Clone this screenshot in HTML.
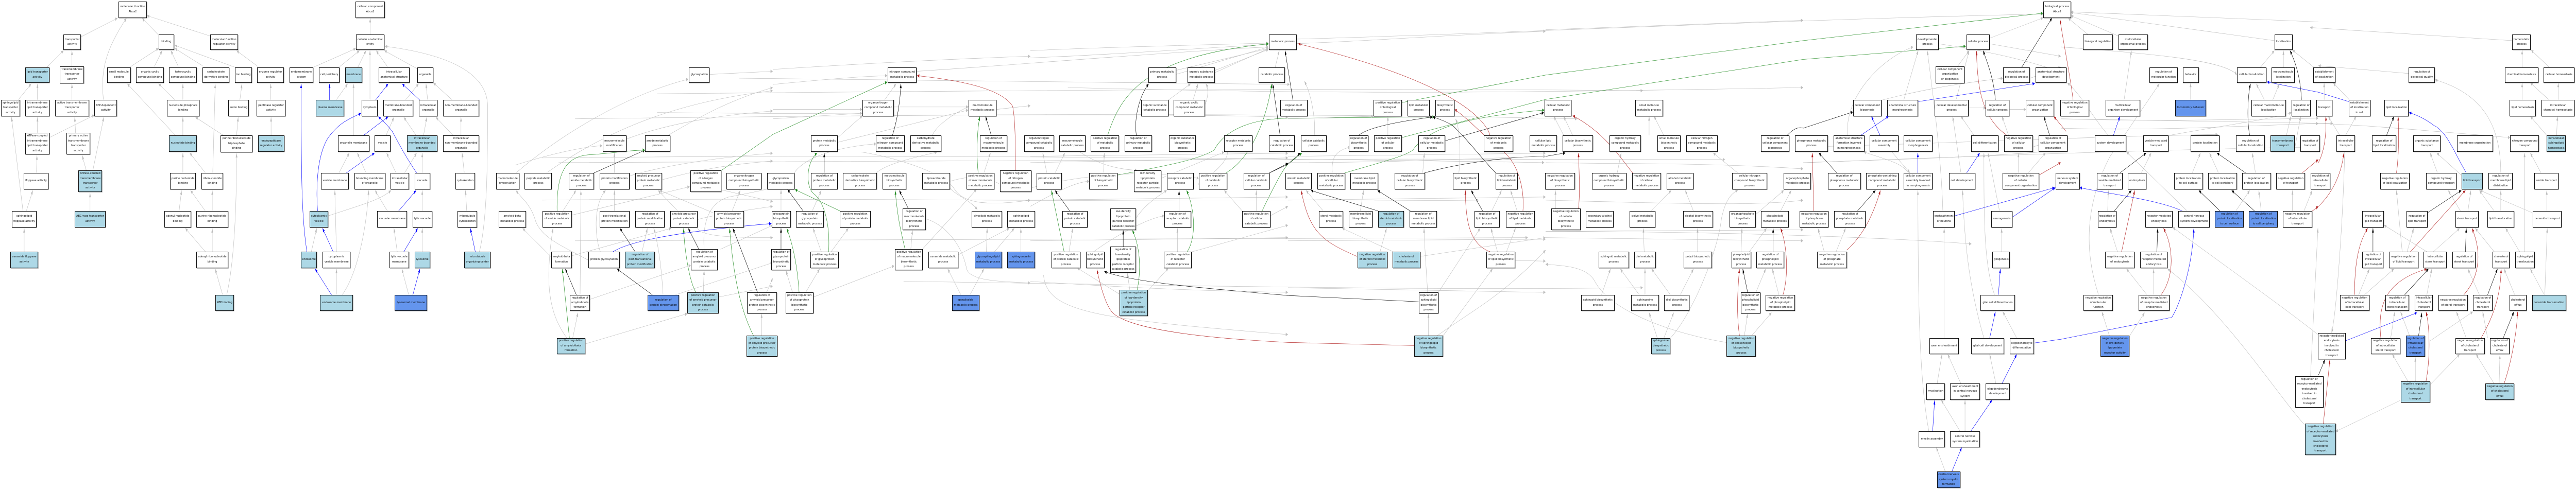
<!DOCTYPE html>
<html><head><meta charset="utf-8"><style>
:root{--sx:calc(100vw / 7680);--sy:calc(100vh / 952)}
html,body{margin:0;padding:0;background:#fff;overflow:hidden;width:100vw;height:100vh}
#w{position:relative;width:100vw;height:100vh;overflow:hidden;background:#fff}
svg{position:absolute;left:0;top:0;width:100vw;height:100vh}
svg path{vector-effect:non-scaling-stroke;fill:none;stroke-width:calc(100vw / 7680)}
.g{stroke:#bdbdbd;marker-end:url(#mg)}
.k{stroke:#000;marker-end:url(#mk)}
.u{stroke:#0000ff;marker-end:url(#mu)}
.v{stroke:#228b22;marker-end:url(#mv)}
.r{stroke:#b22222;marker-end:url(#mr)}
.n,.b,.d{position:absolute;box-sizing:border-box;left:calc((var(--k)*1568 + var(--x))*0.489796*var(--sx));top:calc(var(--y)*0.6075*var(--sy));width:calc(var(--w)*0.489796*var(--sx));height:calc(var(--h)*0.6075*var(--sy));border:calc(1*var(--sx)) solid #111;box-shadow:var(--sx) var(--sx) 0 #808080;background:#fff;display:flex;align-items:center;justify-content:center;text-align:center;font-family:"DejaVu Sans","Liberation Sans",sans-serif;font-size:calc(7.8*var(--sx));line-height:calc(9.4*var(--sy));color:#000;white-space:nowrap}
.b{background:#add8e6}
.d{background:#6495ed}
</style></head><body><div id="w">
<svg viewBox="0 0 15680 1567" preserveAspectRatio="none">
<defs>
<marker id="mg" viewBox="0 0 10 8" refX="10" refY="4" markerWidth="14" markerHeight="11" markerUnits="userSpaceOnUse" orient="auto"><polygon points="0,0 10,4 0,8" fill="#bdbdbd"/></marker>
<marker id="mk" viewBox="0 0 10 8" refX="10" refY="4" markerWidth="14" markerHeight="11" markerUnits="userSpaceOnUse" orient="auto"><polygon points="0,0 10,4 0,8" fill="#000"/></marker>
<marker id="mu" viewBox="0 0 10 8" refX="10" refY="4" markerWidth="14" markerHeight="11" markerUnits="userSpaceOnUse" orient="auto"><polygon points="0,0 10,4 0,8" fill="#0000ff"/></marker>
<marker id="mv" viewBox="0 0 10 8" refX="10" refY="4" markerWidth="14" markerHeight="11" markerUnits="userSpaceOnUse" orient="auto"><polygon points="0,0 10,4 0,8" fill="#228b22"/></marker>
<marker id="mr" viewBox="0 0 10 8" refX="10" refY="4" markerWidth="14" markerHeight="11" markerUnits="userSpaceOnUse" orient="auto"><polygon points="0,0 10,4 0,8" fill="#b22222"/></marker>
</defs>

<g>
<path class="g" d="M3300,505 C5000,495 7000,500 9400,520"/>
<path class="g" d="M3400,520 C5000,515 8000,505 10500,510"/>
<path class="g" d="M3300,640 C5000,630 7000,650 9000,640"/>
<path class="g" d="M3500,770 C5000,760 7000,770 9300,760"/>
<path class="g" d="M4000,300 C6000,290 8000,280 10000,290"/>
<path class="g" d="M4000,360 C6000,370 8000,360 9600,380"/>
<path class="g" d="M3500,380 C5000,370 7000,360 7840,375"/>
<path class="g" d="M4500,250 C6000,260 7000,270 7850,270"/>
<path class="g" d="M6500,280 C8000,300 9000,300 10976,280"/>
<path class="g" d="M5500,900 C7000,910 8500,930 10000,920"/>
<path class="g" d="M9408,740 C10500,740 11500,760 12000,780"/>
<path class="g" d="M10976,470 C11800,460 12500,440 13500,430"/>
<path class="g" d="M11000,520 C12000,500 13000,480 14100,470"/>
<path class="g" d="M12544,380 C13000,385 13800,390 14200,395"/>
<path class="g" d="M5580,228 C6000,215 7000,170 7722,150"/>
<path class="g" d="M7892,125 C9000,110 11000,60 12436,45"/>
<path class="g" d="M7158,225 L7722,155"/>
<path class="g" d="M7396,225 L7722,158"/>
<path class="v" d="M8533,328 L9408,240 L10976,130 L12436,42"/>
<path class="v" d="M8533,440 L9408,318 L10976,190 L11966,148"/>
<path class="v" d="M8185,553 C8400,520 8550,500 8600,480 C8700,400 9000,370 9401,352"/>
<path class="v" d="M6802,560 C7100,530 7300,510 7390,480 C7450,420 7600,380 7840,378 L8733,374"/>
<path class="v" d="M7682,675 C7750,600 7810,540 7840,525 L7925,489"/>
<path class="v" d="M4391,545 L4704,430 L5401,262"/>
<path class="r" d="M8607,1105 L7840,1095 C7272,1080 6872,1050 6772,1000 C6722,970 6692,900 6677,862"/>
<path class="u" d="M12381,1097 L12544,1085 L13219,1015 C13264,980 13344,860 13354,730"/>
<path class="k" d="M8637,965 L7840,945 C7272,920 6872,900 6722,868"/>
<path class="k" d="M8670,553 C8900,520 9200,500 9408,500 L9528,489"/>
<path class="k" d="M10878,433 C10920,410 10950,405 10976,410 L11279,358"/>
<path class="k" d="M7727,553 L7840,525 L7915,489"/>
<path class="k" d="M7870,320 L7822,162"/>
</g>

<g>
<path class="g" d="M492,118 L715,58"/>
<path class="g" d="M630,320 C610,230 640,160 770,58"/>
<path class="g" d="M965,112 L865,58"/>
<path class="g" d="M1278,115 L895,50"/>
<path class="g" d="M285,215 L387,162"/>
<path class="g" d="M438,212 L438,162"/>
<path class="g" d="M795,213 L965,155"/>
<path class="g" d="M940,212 L987,162"/>
<path class="g" d="M1085,212 L1040,162"/>
<path class="g" d="M1232,210 L1065,155"/>
<path class="g" d="M1430,215 L1065,145"/>
<path class="g" d="M110,320 L190,268"/>
<path class="g" d="M228,320 L228,268"/>
<path class="g" d="M438,320 L438,268"/>
<path class="g" d="M1065,320 L965,268"/>
<path class="g" d="M1113,320 L1113,268"/>
<path class="g" d="M1460,320 L1473,268"/>
<path class="g" d="M228,425 L228,375"/>
<path class="g" d="M300,440 L575,368"/>
<path class="g" d="M460,425 L455,375"/>
<path class="g" d="M1068,433 L775,268"/>
<path class="g" d="M1113,433 L1113,375"/>
<path class="g" d="M1360,433 L1190,375"/>
<path class="g" d="M1440,433 L1450,375"/>
<path class="g" d="M222,553 L225,497"/>
<path class="g" d="M525,545 L500,497"/>
<path class="g" d="M565,545 L632,375"/>
<path class="g" d="M1113,553 L1113,489"/>
<path class="g" d="M1250,553 L1155,489"/>
<path class="g" d="M1295,553 L1310,268"/>
<path class="g" d="M140,675 L70,375"/>
<path class="g" d="M160,675 L200,609"/>
<path class="g" d="M548,675 L548,617"/>
<path class="g" d="M1090,675 L1105,609"/>
<path class="g" d="M1250,675 L1160,609"/>
<path class="g" d="M1292,675 L1292,609"/>
<path class="g" d="M147,805 L147,730"/>
<path class="g" d="M1250,805 L1128,730"/>
<path class="g" d="M1292,805 L1292,730"/>
<path class="g" d="M1355,943 L1310,860"/>
<path class="g" d="M1380,943 C1420,850 1440,700 1440,490"/>
<path class="g" d="M1568,212 L1440,162"/>
</g>

<g transform="translate(1568,0)">
<path class="g" d="M685,110 L685,58"/>
<path class="g" d="M80,320 L80,268"/>
<path class="g" d="M82,433 L82,375"/>
<path class="g" d="M340,215 L598,155"/>
<path class="g" d="M500,213 L620,162"/>
<path class="g" d="M610,215 L660,162"/>
<path class="g" d="M684,320 L684,162"/>
<path class="g" d="M790,213 L722,162"/>
<path class="g" d="M972,220 L772,162"/>
<path class="g" d="M1350,805 C1400,700 1400,500 1400,340 C1400,220 1100,170 775,148"/>
<path class="g" d="M478,320 L548,268"/>
<path class="g" d="M900,320 L980,268"/>
<path class="g" d="M1035,320 L1025,268"/>
<path class="g" d="M1185,320 L1070,265"/>
<path class="g" d="M584,433 L584,268"/>
<path class="g" d="M782,433 L830,375"/>
<path class="g" d="M965,433 L890,375"/>
<path class="g" d="M1010,433 L1030,375"/>
<path class="g" d="M1190,433 L1085,375"/>
<path class="g" d="M1238,433 L1238,375"/>
<path class="g" d="M495,553 L558,489"/>
<path class="g" d="M660,553 L607,489"/>
<path class="g" d="M843,553 L785,489"/>
<path class="g" d="M895,553 L968,489"/>
<path class="g" d="M1002,553 L1002,489"/>
<path class="g" d="M1258,553 L1245,489"/>
<path class="g" d="M431,690 C600,660 750,640 812,609"/>
<path class="g" d="M790,675 L715,609"/>
<path class="g" d="M1002,675 L1002,609"/>
<path class="g" d="M1273,675 L1265,609"/>
<path class="g" d="M327,805 L360,730"/>
<path class="g" d="M480,805 L470,609"/>
<path class="g" d="M850,805 L830,730"/>
<path class="g" d="M1002,805 L1002,730"/>
<path class="g" d="M480,943 L480,860"/>
<path class="g" d="M515,943 C600,880 660,750 676,609"/>
<path class="g" d="M920,943 L878,860"/>
<path class="u" d="M438,320 L438,268"/>
<path class="u" d="M718,320 L795,268"/>
<path class="u" d="M987,320 L880,268"/>
<path class="u" d="M645,433 L795,373"/>
<path class="u" d="M540,553 L712,489"/>
<path class="u" d="M968,553 C900,500 860,460 820,420 C790,400 760,385 735,373"/>
<path class="u" d="M365,675 C350,560 380,480 430,440 C500,390 560,380 630,362"/>
<path class="u" d="M858,675 L965,609"/>
<path class="u" d="M300,805 C270,700 265,600 265,268"/>
<path class="u" d="M460,805 L395,730"/>
<path class="u" d="M890,805 L975,730"/>
<path class="u" d="M1325,805 L1295,730"/>
<path class="u" d="M450,943 L350,860"/>
<path class="u" d="M945,943 L988,860"/>
</g>

<g transform="translate(3136,0)">
<path class="g" d="M5,553 C300,420 700,300 1055,253"/>
<path class="g" d="M1183,238 L1568,228"/>
<path class="g" d="M0,528 C200,495 400,470 530,466"/>
<path class="g" d="M676,445 C900,400 1200,370 1568,355"/>
<path class="g" d="M190,553 C500,440 900,330 1568,290"/>
<path class="g" d="M930,433 C1100,380 1300,320 1568,280"/>
<path class="g" d="M604,553 L604,489"/>
<path class="g" d="M680,565 C900,530 1200,505 1568,490"/>
<path class="g" d="M893,575 C1100,545 1300,525 1568,515"/>
<path class="g" d="M290,675 L370,609"/>
<path class="g" d="M345,688 L1062,597"/>
<path class="g" d="M604,675 L604,609"/>
<path class="g" d="M518,805 C480,750 480,650 550,609"/>
<path class="g" d="M772,805 L805,730"/>
<path class="g" d="M900,943 C890,850 870,780 843,730"/>
<path class="g" d="M990,675 L870,609"/>
<path class="g" d="M1211,682 L880,609"/>
<path class="g" d="M1320,675 L1370,609"/>
<path class="g" d="M1255,607 L1568,645"/>
<path class="g" d="M344,818 L950,730"/>
<path class="g" d="M220,822 L45,730"/>
<path class="g" d="M445,832 C300,790 150,760 120,700 C90,650 30,630 5,609"/>
<path class="g" d="M395,943 L400,609"/>
<path class="g" d="M456,957 L1070,848"/>
<path class="g" d="M315,1081 C200,1000 180,900 230,730"/>
<path class="g" d="M350,1081 L382,1000"/>
<path class="g" d="M425,1100 L1048,1003"/>
<path class="g" d="M975,943 L1568,840"/>
<path class="g" d="M1145,935 L1150,865"/>
<path class="g" d="M1238,950 L1568,915"/>
<path class="g" d="M1500,1073 L1500,1003"/>
<path class="g" d="M1530,935 L1568,890"/>
<path class="g" d="M1150,797 C1140,720 1170,650 1300,630 C1400,620 1500,610 1568,600"/>
<path class="g" d="M1250,797 L1568,720"/>
<path class="g" d="M1110,727 C1110,760 1400,760 1568,760"/>
<path class="g" d="M1000,727 C1050,700 1300,680 1568,660"/>
<path class="k" d="M480,553 L790,480"/>
<path class="k" d="M372,943 L305,860"/>
<path class="k" d="M835,943 L620,860"/>
<path class="k" d="M730,805 L637,730"/>
<path class="k" d="M1118,797 L1053,730"/>
<path class="k" d="M1475,935 L1325,730"/>
<path class="v" d="M255,675 C250,560 300,500 450,495 C600,490 700,480 790,480"/>
<path class="v" d="M330,1081 L287,860"/>
<path class="v" d="M1100,935 C1060,900 1030,800 1025,730"/>
<path class="v" d="M1450,1073 C1380,1000 1330,900 1305,730"/>
<path class="u" d="M595,805 C700,770 1000,740 1560,715"/>
</g>

<g transform="translate(4704,0)">
<path class="g" d="M0,222 C500,205 1000,190 1568,180"/>
<path class="g" d="M0,270 C300,255 500,245 697,242"/>
<path class="g" d="M680,320 L750,268"/>
<path class="g" d="M395,440 L546,370"/>
<path class="g" d="M395,455 L1190,352"/>
<path class="g" d="M0,350 L544,350"/>
<path class="g" d="M0,380 L544,362"/>
<path class="g" d="M737,342 L1190,342"/>
<path class="g" d="M1361,350 L1568,338"/>
<path class="g" d="M240,675 L295,609"/>
<path class="g" d="M295,805 L245,730"/>
<path class="g" d="M355,805 L460,730"/>
<path class="g" d="M120,935 L80,865"/>
<path class="g" d="M200,935 L285,860"/>
<path class="g" d="M247,950 L740,850"/>
<path class="g" d="M50,675 L50,606"/>
<path class="g" d="M840,797 L850,736"/>
<path class="g" d="M914,795 L1240,606"/>
<path class="g" d="M1285,553 L1325,489"/>
<path class="g" d="M1300,805 L1305,730"/>
<path class="g" d="M1350,805 L1470,730"/>
<path class="g" d="M1510,805 L1510,730"/>
<path class="g" d="M1200,943 L1285,860"/>
<path class="g" d="M1145,943 L1065,860"/>
<path class="g" d="M1128,815 L1440,730"/>
<path class="g" d="M935,700 C1050,720 1150,780 1180,860 C1200,900 1400,900 1568,905"/>
<path class="g" d="M970,433 C1000,400 1100,360 1240,330"/>
<path class="g" d="M540,486 C700,500 1000,540 1100,600 C1150,650 1300,660 1568,640"/>
<path class="g" d="M1078,580 C1200,560 1300,560 1420,600"/>
<path class="g" d="M630,553 C700,520 900,500 1000,486"/>
<path class="g" d="M130,553 C200,500 400,470 630,460"/>
<path class="g" d="M1078,600 C1100,620 1200,640 1245,670"/>
<path class="k" d="M728,433 C760,380 775,320 780,268"/>
<path class="k" d="M313,553 L313,489"/>
<path class="k" d="M185,675 L90,606"/>
<path class="k" d="M50,797 L50,730"/>
<path class="k" d="M825,667 L770,609"/>
<path class="k" d="M1330,433 L1295,372"/>
<path class="v" d="M340,805 C350,700 300,640 250,620 C200,600 200,520 270,489"/>
<path class="v" d="M410,675 L135,606"/>
<path class="v" d="M160,935 C150,850 120,780 85,730"/>
<path class="v" d="M805,797 C780,740 760,700 745,609"/>
<path class="v" d="M1250,553 C1240,500 1240,430 1260,372"/>
<path class="r" d="M1477,545 C1477,450 1475,380 1460,340 C1400,290 1200,260 878,242"/>
</g>

<g transform="translate(6272,0)">
<path class="g" d="M0,162 C400,152 900,145 1450,138"/>
<path class="g" d="M0,185 C500,175 1000,155 1450,142"/>
<path class="g" d="M886,238 L1450,150"/>
<path class="g" d="M1124,232 L1450,155"/>
<path class="g" d="M1490,215 L1515,162"/>
<path class="g" d="M840,320 L975,268"/>
<path class="g" d="M990,320 L1020,268"/>
<path class="g" d="M1060,340 C1090,300 1080,280 1068,268"/>
<path class="g" d="M1375,675 L1375,609"/>
<path class="g" d="M1290,675 L1180,609"/>
<path class="g" d="M1460,690 L1568,660"/>
<path class="g" d="M895,805 L895,730"/>
<path class="g" d="M985,805 L1568,720"/>
<path class="g" d="M605,927 L590,873"/>
<path class="g" d="M720,927 L840,857"/>
<path class="g" d="M540,940 L285,857"/>
<path class="g" d="M235,805 L258,730"/>
<path class="g" d="M100,553 L75,489"/>
<path class="g" d="M150,553 L210,489"/>
<path class="g" d="M445,553 L450,489"/>
<path class="g" d="M0,900 C600,920 1000,930 1568,935"/>
<path class="g" d="M80,880 C100,1000 400,1020 1568,1070"/>
<path class="g" d="M797,570 L1180,486"/>
<path class="g" d="M640,700 C700,650 800,620 830,609"/>
<path class="g" d="M380,807 C500,760 700,700 814,690"/>
<path class="g" d="M10,600 C300,560 700,540 1026,570"/>
<path class="g" d="M0,640 L1568,630"/>
<path class="g" d="M0,770 L1568,760"/>
<path class="g" d="M0,500 L1568,490"/>
<path class="g" d="M0,520 C500,515 1000,510 1568,505"/>
<path class="g" d="M0,660 C200,600 300,580 359,580"/>
<path class="g" d="M1200,486 C1200,520 1100,560 1020,590"/>
<path class="g" d="M300,486 C400,520 500,540 650,545"/>
<path class="k" d="M645,433 C630,380 660,310 720,268"/>
<path class="k" d="M1520,433 L1475,268"/>
<path class="k" d="M1455,553 L1568,522"/>
<path class="k" d="M905,675 L905,609"/>
<path class="k" d="M565,789 L565,736"/>
<path class="k" d="M240,675 L150,609"/>
<path class="v" d="M470,433 C550,300 700,180 1450,140"/>
<path class="v" d="M1190,553 C1300,520 1420,430 1470,268"/>
<path class="v" d="M955,805 C1020,750 990,650 950,609"/>
<path class="v" d="M650,927 C680,850 660,780 620,736"/>
<path class="v" d="M205,805 L128,609"/>
</g>

<g transform="translate(7840,0)">
<path class="g" d="M0,140 C400,135 1000,110 1568,100"/>
<path class="g" d="M160,433 C170,380 140,300 100,260"/>
<path class="g" d="M608,433 L608,372"/>
<path class="g" d="M820,553 L830,490"/>
<path class="g" d="M440,675 L460,609"/>
<path class="g" d="M215,675 L110,609"/>
<path class="g" d="M560,805 L600,730"/>
<path class="g" d="M640,805 L330,730"/>
<path class="g" d="M805,820 L1568,760"/>
<path class="g" d="M855,1073 L855,1003"/>
<path class="g" d="M910,1073 C1100,1000 1300,950 1568,800"/>
<path class="g" d="M945,1073 L1245,860"/>
<path class="g" d="M850,935 C840,850 830,780 828,730"/>
<path class="g" d="M915,935 L1170,730"/>
<path class="g" d="M1240,675 L1300,609"/>
<path class="g" d="M1395,675 L1355,609"/>
<path class="g" d="M1275,805 L1235,730"/>
<path class="g" d="M1330,805 L1385,730"/>
<path class="g" d="M1040,553 C1050,500 1050,420 1020,380"/>
<path class="g" d="M1380,833 L1568,835"/>
<path class="g" d="M0,920 C400,925 1000,930 1568,935"/>
<path class="g" d="M0,380 C300,375 500,372 520,372"/>
<path class="g" d="M0,500 L1568,490"/>
<path class="g" d="M0,520 C600,520 1000,510 1568,500"/>
<path class="g" d="M0,640 L1568,630"/>
<path class="g" d="M0,770 L1568,765"/>
<path class="g" d="M270,553 C260,500 300,480 380,470"/>
<path class="k" d="M430,433 C500,400 800,380 880,374"/>
<path class="k" d="M958,450 L1558,360"/>
<path class="k" d="M1265,553 C1200,520 1100,450 1000,400 C950,385 900,378 882,373"/>
<path class="k" d="M1185,675 L1115,609"/>
<path class="k" d="M550,675 C400,650 200,620 140,609"/>
<path class="k" d="M745,675 L545,609"/>
<path class="r" d="M1230,433 C1200,380 1000,260 62,140"/>
<path class="r" d="M1430,675 C1440,600 1400,520 1300,480 C1200,440 1100,380 1014,350"/>
<path class="r" d="M1230,805 C1100,780 1080,700 1080,609"/>
<path class="r" d="M420,820 C200,770 130,740 80,609"/>
</g>

<g transform="translate(9408,0)">
<path class="g" d="M0,95 L1568,65"/>
<path class="g" d="M110,433 L50,372"/>
<path class="g" d="M165,433 L110,372"/>
<path class="g" d="M630,433 L630,372"/>
<path class="g" d="M720,433 L660,372"/>
<path class="g" d="M436,553 L460,489"/>
<path class="g" d="M640,675 L765,609"/>
<path class="g" d="M900,675 L850,609"/>
<path class="g" d="M925,805 L925,730"/>
<path class="g" d="M600,805 L595,730"/>
<path class="g" d="M340,943 L395,860"/>
<path class="g" d="M570,943 L455,860"/>
<path class="g" d="M605,943 L605,860"/>
<path class="g" d="M760,943 L645,860"/>
<path class="g" d="M820,943 L900,860"/>
<path class="g" d="M680,1081 L630,1000"/>
<path class="g" d="M720,1081 L780,1000"/>
<path class="g" d="M760,1081 C900,1000 1050,800 1070,700 C1090,650 1120,620 1170,609"/>
<path class="g" d="M1210,1073 L1230,1003"/>
<path class="g" d="M1255,1073 L1375,1000"/>
<path class="g" d="M1100,1095 C800,1070 400,1000 300,900 C250,850 100,850 0,845"/>
<path class="g" d="M1280,935 L1340,860"/>
<path class="g" d="M1420,943 L1380,860"/>
<path class="g" d="M1240,805 L1345,730"/>
<path class="g" d="M1190,805 L1195,730"/>
<path class="g" d="M1430,675 L1495,609"/>
<path class="g" d="M1270,690 L1450,609"/>
<path class="g" d="M60,667 L60,609"/>
<path class="g" d="M1170,553 L1020,489"/>
<path class="g" d="M0,740 L1568,735"/>
<path class="g" d="M0,760 L1568,770"/>
<path class="g" d="M0,520 C500,525 1000,520 1568,540"/>
<path class="g" d="M0,640 C700,650 1300,660 1568,640"/>
<path class="k" d="M1230,935 L1200,860"/>
<path class="k" d="M1385,805 L1385,730"/>
<path class="r" d="M530,553 C450,500 350,420 165,370"/>
<path class="r" d="M200,667 C210,620 205,560 200,489"/>
<path class="r" d="M1180,1073 C1160,1000 1170,920 1180,860"/>
<path class="r" d="M1445,943 C1480,880 1470,780 1430,730"/>
</g>

<g transform="translate(10976,0)">
<path class="g" d="M850,675 C840,500 790,300 755,162"/>
<path class="g" d="M858,1081 L858,730"/>
<path class="g" d="M815,1227 L845,1133"/>
<path class="g" d="M960,1227 L880,1133"/>
<path class="g" d="M985,1379 L985,1279"/>
<path class="g" d="M955,1379 L840,1279"/>
<path class="g" d="M765,1379 C700,1200 700,900 698,609"/>
<path class="g" d="M865,1508 L810,1431"/>
<path class="g" d="M1173,1227 L1135,1133"/>
<path class="g" d="M1100,1081 C1000,900 980,750 970,609"/>
<path class="g" d="M1165,943 C1100,850 1100,700 1100,489"/>
<path class="g" d="M1195,675 L1125,489"/>
<path class="g" d="M1208,805 L1208,730"/>
<path class="g" d="M1300,1081 L1215,997"/>
<path class="g" d="M960,553 L910,372"/>
<path class="g" d="M1040,433 L960,372"/>
<path class="g" d="M640,553 C600,520 500,510 370,486"/>
<path class="g" d="M540,486 L650,553"/>
<path class="g" d="M612,320 L700,162"/>
<path class="g" d="M270,433 C250,300 500,180 670,150"/>
<path class="g" d="M930,320 L1010,162"/>
<path class="g" d="M940,212 L1010,162"/>
<path class="g" d="M1310,553 L1310,489"/>
<path class="g" d="M1370,553 L1475,489"/>
<path class="g" d="M1136,140 L1568,180"/>
<path class="g" d="M1381,250 L1568,215"/>
<path class="g" d="M1136,122 L1460,57"/>
<path class="g" d="M825,140 C1200,170 1400,200 1568,230"/>
<path class="g" d="M128,805 L90,730"/>
<path class="g" d="M200,805 L258,730"/>
<path class="g" d="M0,520 C600,510 1200,500 1568,480"/>
<path class="g" d="M480,320 C700,290 900,270 1216,250"/>
<path class="g" d="M1007,345 L1111,345"/>
<path class="g" d="M1253,350 L1356,350"/>
<path class="g" d="M1398,470 L1568,440"/>
<path class="g" d="M1250,433 L1210,372"/>
<path class="k" d="M1330,215 L1515,57"/>
<path class="k" d="M1170,320 C1160,250 1120,200 1095,162"/>
<path class="k" d="M1500,433 L1465,372"/>
<path class="k" d="M205,553 L95,489"/>
<path class="k" d="M330,675 L440,609"/>
<path class="u" d="M700,325 L1410,267"/>
<path class="u" d="M350,433 L520,372"/>
<path class="u" d="M468,433 L415,372"/>
<path class="u" d="M698,553 L698,489"/>
<path class="u" d="M995,553 L1075,489"/>
<path class="u" d="M925,690 L1530,600"/>
<path class="u" d="M1272,695 L1535,600"/>
<path class="u" d="M1188,943 L1200,860"/>
<path class="u" d="M1135,1081 L1170,997"/>
<path class="u" d="M788,1379 L800,1280"/>
<path class="u" d="M905,1508 L965,1431"/>
<path class="u" d="M1020,1379 L1150,1279"/>
<path class="u" d="M1210,1227 L1300,1133"/>
<path class="r" d="M1240,433 C1100,380 1060,300 1055,163"/>
<path class="r" d="M65,675 L55,489"/>
<path class="r" d="M265,800 C350,760 420,700 470,609"/>
<path class="r" d="M1435,560 L1568,520"/>
<path class="r" d="M1600,420 L1525,372"/>
</g>

<g transform="translate(12544,0)">
<path class="g" d="M165,110 L45,58"/>
<path class="g" d="M350,115 L62,50"/>
<path class="g" d="M1300,130 L62,40"/>
<path class="g" d="M1568,70 L62,38"/>
<path class="g" d="M385,320 L430,162"/>
<path class="g" d="M290,433 C200,380 120,300 40,265"/>
<path class="g" d="M490,553 L550,489"/>
<path class="g" d="M285,675 L290,609"/>
<path class="g" d="M345,805 L300,730"/>
<path class="g" d="M565,943 L565,860"/>
<path class="g" d="M525,943 L400,860"/>
<path class="g" d="M410,1081 L510,1000"/>
<path class="g" d="M300,1081 L250,997"/>
<path class="g" d="M770,675 L400,486"/>
<path class="g" d="M1065,675 L1150,609"/>
<path class="g" d="M1220,675 L1205,609"/>
<path class="g" d="M1410,675 L1410,609"/>
<path class="g" d="M1480,675 L1530,609"/>
<path class="g" d="M1215,215 L1300,162"/>
<path class="g" d="M1355,215 L1355,162"/>
<path class="g" d="M1540,215 L1410,160"/>
<path class="g" d="M1290,320 L1330,268"/>
<path class="g" d="M1240,320 L1190,268"/>
<path class="g" d="M1185,553 L1165,489"/>
<path class="g" d="M800,553 L850,489"/>
<path class="g" d="M960,553 L905,489"/>
<path class="g" d="M230,943 C140,800 150,650 300,500 L600,268"/>
<path class="g" d="M790,320 L790,265"/>
<path class="g" d="M1520,1203 L1565,730"/>
<path class="g" d="M0,150 C500,170 1000,190 1073,240"/>
<path class="g" d="M660,433 C1000,400 1300,380 1404,360"/>
<path class="g" d="M1350,486 L1400,372"/>
<path class="g" d="M1420,486 L1460,372"/>
<path class="g" d="M0,380 C600,390 1300,380 1568,378"/>
<path class="g" d="M0,410 C600,420 1200,400 1568,395"/>
<path class="g" d="M1565,1070 C1400,1000 1000,850 681,727"/>
<path class="g" d="M1486,1360 C1300,1250 1000,1000 650,860"/>
<path class="k" d="M360,553 L520,489"/>
<path class="k" d="M325,675 L430,609"/>
<path class="k" d="M585,805 L590,730"/>
<path class="k" d="M970,675 L840,609"/>
<path class="k" d="M1180,675 L1040,609"/>
<path class="k" d="M1150,433 C1130,380 1140,300 1155,268"/>
<path class="k" d="M1465,320 C1460,250 1430,200 1395,162"/>
<path class="k" d="M1125,553 L950,489"/>
<path class="r" d="M75,320 C60,250 20,150 -5,62"/>
<path class="r" d="M370,805 L450,609"/>
<path class="r" d="M610,943 C700,880 680,780 625,730"/>
<path class="r" d="M1470,553 L1568,510"/>
<path class="r" d="M1530,675 L1568,660"/>
<path class="u" d="M740,675 C600,640 300,620 115,600"/>
<path class="u" d="M320,433 L360,372"/>
<path class="u" d="M1753,325 L1568,295 L1255,262"/>
</g>

<g transform="translate(14112,0)">
<path class="g" d="M35,320 L35,265"/>
<path class="g" d="M1240,215 L1240,160"/>
<path class="g" d="M1405,215 L1295,160"/>
<path class="g" d="M1240,320 L1240,265"/>
<path class="g" d="M1405,320 L1290,265"/>
<path class="g" d="M1460,320 L1460,265"/>
<path class="g" d="M1450,433 L1455,372"/>
<path class="g" d="M1390,433 L1290,372"/>
<path class="g" d="M1180,130 L-50,88"/>
<path class="g" d="M550,235 L0,210"/>
<path class="g" d="M1110,553 C1110,400 1000,300 710,255"/>
<path class="g" d="M725,553 L680,489"/>
<path class="g" d="M870,560 L720,489"/>
<path class="g" d="M910,675 L928,609"/>
<path class="g" d="M865,675 L790,609"/>
<path class="g" d="M1070,675 L980,609"/>
<path class="g" d="M1110,675 L1110,609"/>
<path class="g" d="M1300,680 L985,609"/>
<path class="g" d="M1390,675 L1390,609"/>
<path class="g" d="M1355,553 L1290,489"/>
<path class="g" d="M1255,805 L1255,489"/>
<path class="g" d="M1378,943 L1393,730"/>
<path class="g" d="M1225,805 L1140,730"/>
<path class="g" d="M1375,943 L1290,860"/>
<path class="g" d="M1070,805 L955,730"/>
<path class="g" d="M540,805 L580,730"/>
<path class="g" d="M510,805 L475,609"/>
<path class="g" d="M245,943 L310,860"/>
<path class="g" d="M280,943 L460,860"/>
<path class="g" d="M590,1219 L590,1143"/>
<path class="g" d="M545,1219 L450,1133"/>
<path class="g" d="M680,1230 L860,1133"/>
<path class="g" d="M500,1280 L105,1380"/>
<path class="g" d="M440,1081 L465,997"/>
<path class="g" d="M660,943 L690,860"/>
<path class="g" d="M560,1081 L500,997"/>
<path class="g" d="M680,1090 L940,997"/>
<path class="g" d="M900,1081 L840,997"/>
<path class="g" d="M1030,1081 L1000,997"/>
<path class="g" d="M1100,1227 L1105,1135"/>
<path class="g" d="M1070,1227 L960,1133"/>
<path class="g" d="M1195,943 L1130,860"/>
<path class="g" d="M165,433 L230,372"/>
<path class="g" d="M190,320 L90,265"/>
<path class="g" d="M160,486 C150,700 110,1000 80,1065"/>
<path class="g" d="M130,433 L60,372"/>
<path class="g" d="M0,395 C300,400 700,420 1168,440"/>
<path class="g" d="M980,943 L910,860"/>
<path class="g" d="M700,805 L860,730"/>
<path class="g" d="M660,805 L400,720"/>
<path class="k" d="M415,433 L460,372"/>
<path class="k" d="M895,805 L900,730"/>
<path class="k" d="M665,680 L870,609"/>
<path class="k" d="M332,805 L332,730"/>
<path class="k" d="M525,943 L670,860"/>
<path class="k" d="M610,1073 L630,1000"/>
<path class="k" d="M1030,943 L1090,860"/>
<path class="k" d="M1125,1081 L1190,997"/>
<path class="k" d="M0,1200 L40,1150"/>
<path class="r" d="M475,553 C490,500 490,420 485,372"/>
<path class="r" d="M885,943 C990,880 990,800 935,730"/>
<path class="r" d="M560,805 L895,609"/>
<path class="r" d="M220,943 C220,850 240,780 300,730"/>
<path class="r" d="M655,1219 C680,1150 680,1050 655,997"/>
<path class="r" d="M380,1081 C360,980 400,900 660,860"/>
<path class="r" d="M990,1081 C1080,1000 1110,930 1112,860"/>
<path class="r" d="M1130,1227 C1180,1150 1210,1050 1212,997"/>
<path class="r" d="M30,1355 L70,1150"/>
<path class="r" d="M0,520 C40,480 50,420 45,372"/>
<path class="r" d="M0,660 C80,620 140,560 155,489"/>
<path class="u" d="M900,553 C820,480 780,420 700,400 C650,380 600,368 552,360"/>
<path class="u" d="M165,1090 L600,1000"/>
</g>
</svg>

<div class="n" style="--k:0;--x:720;--y:5;--w:175;--h:52">molecular_function<br>Abca2</div>
<div class="n" style="--k:0;--x:387;--y:110;--w:105;--h:50">transporter<br>activity</div>
<div class="n" style="--k:0;--x:965;--y:110;--w:95;--h:50">binding</div>
<div class="n" style="--k:0;--x:1278;--y:110;--w:172;--h:50">molecular function<br>regulator activity</div>
<div class="b" style="--k:0;--x:155;--y:215;--w:145;--h:50">lipid transporter<br>activity</div>
<div class="n" style="--k:0;--x:365;--y:212;--w:147;--h:54">transmembrane<br>transporter<br>activity</div>
<div class="n" style="--k:0;--x:652;--y:215;--w:143;--h:50">small molecule<br>binding</div>
<div class="n" style="--k:0;--x:828;--y:215;--w:169;--h:50">organic cyclic<br>compound binding</div>
<div class="n" style="--k:0;--x:1030;--y:215;--w:167;--h:50">heterocyclic<br>compound binding</div>
<div class="n" style="--k:0;--x:1232;--y:215;--w:165;--h:50">carbohydrate<br>derivative binding</div>
<div class="n" style="--k:0;--x:1430;--y:215;--w:103;--h:50">ion binding</div>
<div class="n" style="--k:0;--x:1565;--y:215;--w:163;--h:50">enzyme regulator<br>activity</div>
<div class="n" style="--k:0;--x:7;--y:320;--w:114;--h:52">sphingolipid<br>transporter<br>activity</div>
<div class="n" style="--k:0;--x:155;--y:320;--w:145;--h:52">intramembrane<br>lipid transporter<br>activity</div>
<div class="n" style="--k:0;--x:336;--y:320;--w:205;--h:52">active transmembrane<br>transporter<br>activity</div>
<div class="n" style="--k:0;--x:575;--y:320;--w:138;--h:52">ATP-dependent<br>activity</div>
<div class="n" style="--k:0;--x:1016;--y:320;--w:197;--h:52">nucleoside phosphate<br>binding</div>
<div class="n" style="--k:0;--x:1390;--y:320;--w:125;--h:52">anion binding</div>
<div class="n" style="--k:0;--x:1562;--y:320;--w:176;--h:52">peptidase regulator<br>activity</div>
<div class="n" style="--k:0;--x:155;--y:425;--w:145;--h:69">ATPase-coupled<br>intramembrane<br>lipid transporter<br>activity</div>
<div class="n" style="--k:0;--x:405;--y:425;--w:145;--h:69">primary active<br>transmembrane<br>transporter<br>activity</div>
<div class="b" style="--k:0;--x:1030;--y:433;--w:167;--h:53">nucleotide binding</div>
<div class="n" style="--k:0;--x:1342;--y:433;--w:195;--h:54">purine ribonucleoside<br>triphosphate<br>binding</div>
<div class="b" style="--k:0;--x:1571;--y:433;--w:159;--h:53">endopeptidase<br>regulator activity</div>
<div class="n" style="--k:0;--x:143;--y:553;--w:153;--h:53">floppase activity</div>
<div class="b" style="--k:0;--x:476;--y:545;--w:146;--h:69">ATPase-coupled<br>transmembrane<br>transporter<br>activity</div>
<div class="n" style="--k:0;--x:1036;--y:553;--w:156;--h:53">purine nucleotide<br>binding</div>
<div class="n" style="--k:0;--x:1227;--y:553;--w:131;--h:53">ribonucleotide<br>binding</div>
<div class="n" style="--k:0;--x:71;--y:675;--w:153;--h:52">sphingolipid<br>floppase activity</div>
<div class="b" style="--k:0;--x:454;--y:675;--w:189;--h:52">ABC-type transporter<br>activity</div>
<div class="n" style="--k:0;--x:1000;--y:675;--w:163;--h:52">adenyl nucleotide<br>binding</div>
<div class="n" style="--k:0;--x:1196;--y:675;--w:192;--h:52">purine ribonucleotide<br>binding</div>
<div class="b" style="--k:0;--x:63;--y:805;--w:169;--h:52">ceramide floppase<br>activity</div>
<div class="n" style="--k:0;--x:1194;--y:805;--w:196;--h:52">adenyl ribonucleotide<br>binding</div>
<div class="b" style="--k:0;--x:1312;--y:943;--w:111;--h:52">ATP binding</div>

<div class="n" style="--k:1;--x:596;--y:5;--w:179;--h:52">cellular_component<br>Abca2</div>
<div class="n" style="--k:1;--x:598;--y:110;--w:174;--h:50">cellular anatomical<br>entity</div>
<div class="n" style="--k:1;--x:193;--y:215;--w:147;--h:50">endomembrane<br>system</div>
<div class="n" style="--k:1;--x:373;--y:215;--w:127;--h:50">cell periphery</div>
<div class="b" style="--k:1;--x:532;--y:215;--w:104;--h:50">membrane</div>
<div class="n" style="--k:1;--x:736;--y:215;--w:189;--h:50">intracellular<br>anatomical structure</div>
<div class="n" style="--k:1;--x:972;--y:215;--w:98;--h:50">organelle</div>
<div class="b" style="--k:1;--x:355;--y:320;--w:173;--h:52">plasma membrane</div>
<div class="n" style="--k:1;--x:632;--y:320;--w:100;--h:52">cytoplasm</div>
<div class="n" style="--k:1;--x:765;--y:320;--w:183;--h:52">membrane-bounded<br>organelle</div>
<div class="n" style="--k:1;--x:983;--y:320;--w:112;--h:52">intracellular<br>organelle</div>
<div class="n" style="--k:1;--x:1128;--y:320;--w:222;--h:52">non-membrane-bounded<br>organelle</div>
<div class="n" style="--k:1;--x:489;--y:433;--w:190;--h:53">organelle membrane</div>
<div class="n" style="--k:1;--x:712;--y:433;--w:97;--h:53">vesicle</div>
<div class="b" style="--k:1;--x:908;--y:433;--w:185;--h:53">intracellular<br>membrane-bounded<br>organelle</div>
<div class="n" style="--k:1;--x:1128;--y:433;--w:222;--h:53">intracellular<br>non-membrane-bounded<br>organelle</div>
<div class="n" style="--k:1;--x:386;--y:553;--w:168;--h:53">vesicle membrane</div>
<div class="n" style="--k:1;--x:588;--y:553;--w:189;--h:53">bounding membrane<br>of organelle</div>
<div class="n" style="--k:1;--x:810;--y:553;--w:111;--h:53">intracellular<br>vesicle</div>
<div class="n" style="--k:1;--x:955;--y:553;--w:95;--h:53">vacuole</div>
<div class="n" style="--k:1;--x:1203;--y:553;--w:121;--h:53">cytoskeleton</div>
<div class="n" style="--k:1;--x:1451;--y:553;--w:142;--h:53">macromolecule<br>glycosylation</div>
<div class="b" style="--k:1;--x:316;--y:675;--w:115;--h:52">cytoplasmic<br>vesicle</div>
<div class="n" style="--k:1;--x:728;--y:675;--w:183;--h:52">vacuolar membrane</div>
<div class="n" style="--k:1;--x:944;--y:675;--w:118;--h:52">lytic vacuole</div>
<div class="n" style="--k:1;--x:1217;--y:675;--w:120;--h:52">microtubule<br>cytoskeleton</div>
<div class="n" style="--k:1;--x:1467;--y:675;--w:166;--h:52">amyloid-beta<br>metabolic process</div>
<div class="b" style="--k:1;--x:263;--y:805;--w:98;--h:52">endosome</div>
<div class="n" style="--k:1;--x:396;--y:805;--w:169;--h:52">cytoplasmic<br>vesicle membrane</div>
<div class="n" style="--k:1;--x:803;--y:805;--w:118;--h:52">lytic vacuole<br>membrane</div>
<div class="b" style="--k:1;--x:955;--y:805;--w:95;--h:52">lysosome</div>
<div class="b" style="--k:1;--x:1259;--y:805;--w:158;--h:52">microtubule<br>organizing center</div>
<div class="b" style="--k:1;--x:381;--y:943;--w:199;--h:52">endosome membrane</div>
<div class="d" style="--k:1;--x:835;--y:943;--w:197;--h:52">lysosomal membrane</div>

<div class="n" style="--k:2;--x:1058;--y:215;--w:125;--h:50">glycosylation</div>
<div class="n" style="--k:2;--x:533;--y:433;--w:143;--h:53">macromolecule<br>modification</div>
<div class="n" style="--k:2;--x:789;--y:433;--w:154;--h:53">amide metabolic<br>process</div>
<div class="n" style="--k:2;--x:58;--y:553;--w:166;--h:53">peptide metabolic<br>process</div>
<div class="n" style="--k:2;--x:326;--y:553;--w:155;--h:53">regulation of<br>amide metabolic<br>process</div>
<div class="n" style="--k:2;--x:513;--y:553;--w:183;--h:53">protein modification<br>process</div>
<div class="n" style="--k:2;--x:730;--y:553;--w:163;--h:53">amyloid precursor<br>protein metabolic<br>process</div>
<div class="n" style="--k:2;--x:1065;--y:545;--w:190;--h:69">positive regulation<br>of nitrogen<br>compound metabolic<br>process</div>
<div class="n" style="--k:2;--x:1287;--y:553;--w:211;--h:53">organonitrogen<br>compound biosynthetic<br>process</div>
<div class="n" style="--k:2;--x:1532;--y:553;--w:168;--h:53">glycoprotein<br>metabolic process</div>
<div class="n" style="--k:2;--x:166;--y:675;--w:178;--h:52">positive regulation<br>of amide metabolic<br>process</div>
<div class="n" style="--k:2;--x:513;--y:675;--w:183;--h:52">post-translational<br>protein modification</div>
<div class="n" style="--k:2;--x:730;--y:675;--w:181;--h:52">regulation of<br>protein modification<br>process</div>
<div class="n" style="--k:2;--x:945;--y:675;--w:164;--h:52">amyloid precursor<br>protein catabolic<br>process</div>
<div class="n" style="--k:2;--x:1211;--y:675;--w:181;--h:52">amyloid precursor<br>protein biosynthetic<br>process</div>
<div class="n" style="--k:2;--x:1562;--y:675;--w:116;--h:52">glycoprotein<br>biosynthetic<br>process</div>
<div class="n" style="--k:2;--x:219;--y:805;--w:125;--h:52">amyloid-beta<br>formation</div>
<div class="n" style="--k:2;--x:446;--y:805;--w:190;--h:52">protein glycosylation</div>
<div class="b" style="--k:2;--x:669;--y:805;--w:182;--h:52">regulation of<br>post-translational<br>protein modification</div>
<div class="n" style="--k:2;--x:1070;--y:797;--w:164;--h:68">regulation of<br>amyloid precursor<br>protein catabolic<br>process</div>
<div class="n" style="--k:2;--x:1560;--y:797;--w:118;--h:68">regulation of<br>glycoprotein<br>biosynthetic<br>process</div>
<div class="n" style="--k:2;--x:332;--y:943;--w:124;--h:52">regulation of<br>amyloid-beta<br>formation</div>
<div class="d" style="--k:2;--x:807;--y:943;--w:189;--h:52">regulation of<br>protein glycosylation</div>
<div class="b" style="--k:2;--x:1048;--y:935;--w:190;--h:68">positive regulation<br>of amyloid precursor<br>protein catabolic<br>process</div>
<div class="n" style="--k:2;--x:1410;--y:935;--w:183;--h:68">regulation of<br>amyloid precursor<br>protein biosynthetic<br>process</div>
<div class="b" style="--k:2;--x:254;--y:1081;--w:171;--h:52">positive regulation<br>of amyloid-beta<br>formation</div>
<div class="b" style="--k:2;--x:1408;--y:1073;--w:188;--h:68">positive regulation<br>of amyloid precursor<br>protein biosynthetic<br>process</div>

<div class="n" style="--k:3;--x:699;--y:215;--w:177;--h:50">nitrogen compound<br>metabolic process</div>
<div class="n" style="--k:3;--x:546;--y:320;--w:191;--h:52">organonitrogen<br>compound metabolic<br>process</div>
<div class="n" style="--k:3;--x:1192;--y:320;--w:169;--h:52">macromolecule<br>metabolic process</div>
<div class="n" style="--k:3;--x:232;--y:433;--w:163;--h:53">protein metabolic<br>process</div>
<div class="n" style="--k:3;--x:627;--y:433;--w:175;--h:53">regulation of<br>nitrogen compound<br>metabolic process</div>
<div class="n" style="--k:3;--x:836;--y:433;--w:189;--h:53">carbohydrate<br>derivative metabolic<br>process</div>
<div class="n" style="--k:3;--x:1260;--y:433;--w:167;--h:53">regulation of<br>macromolecule<br>metabolic process</div>
<div class="n" style="--k:3;--x:1529;--y:433;--w:182;--h:53">organonitrogen<br>compound catabolic<br>process</div>
<div class="n" style="--k:3;--x:232;--y:553;--w:163;--h:53">regulation of<br>protein metabolic<br>process</div>
<div class="n" style="--k:3;--x:427;--y:553;--w:208;--h:53">carbohydrate<br>derivative biosynthetic<br>process</div>
<div class="n" style="--k:3;--x:669;--y:553;--w:142;--h:53">macromolecule<br>biosynthetic<br>process</div>
<div class="n" style="--k:3;--x:911;--y:553;--w:167;--h:53">liposaccharide<br>metabolic process</div>
<div class="n" style="--k:3;--x:1179;--y:553;--w:170;--h:53">positive regulation<br>of macromolecule<br>metabolic process</div>
<div class="n" style="--k:3;--x:1383;--y:545;--w:190;--h:69">negative regulation<br>of nitrogen<br>compound metabolic<br>process</div>
<div class="n" style="--k:3;--x:142;--y:675;--w:168;--h:52">regulation of<br>glycoprotein<br>metabolic process</div>
<div class="n" style="--k:3;--x:409;--y:675;--w:186;--h:52">positive regulation<br>of protein metabolic<br>process</div>
<div class="n" style="--k:3;--x:789;--y:667;--w:143;--h:69">regulation of<br>macromolecule<br>biosynthetic<br>process</div>
<div class="n" style="--k:3;--x:1211;--y:675;--w:184;--h:52">glycolipid metabolic<br>process</div>
<div class="n" style="--k:3;--x:1428;--y:675;--w:168;--h:52">sphingolipid<br>metabolic process</div>
<div class="n" style="--k:3;--x:230;--y:805;--w:171;--h:52">positive regulation<br>of glycoprotein<br>metabolic process</div>
<div class="n" style="--k:3;--x:742;--y:797;--w:172;--h:68">positive regulation<br>of macromolecule<br>biosynthetic<br>process</div>
<div class="n" style="--k:3;--x:946;--y:805;--w:182;--h:52">ceramide metabolic<br>process</div>
<div class="d" style="--k:3;--x:1228;--y:805;--w:166;--h:52">glycosphingolipid<br>metabolic process</div>
<div class="d" style="--k:3;--x:1428;--y:805;--w:168;--h:52">sphingomyelin<br>metabolic process</div>
<div class="n" style="--k:3;--x:77;--y:935;--w:170;--h:68">positive regulation<br>of glycoprotein<br>biosynthetic<br>process</div>
<div class="d" style="--k:3;--x:1091;--y:943;--w:167;--h:52">ganglioside<br>metabolic process</div>

<div class="n" style="--k:4;--x:1452;--y:110;--w:168;--h:50">metabolic process</div>
<div class="n" style="--k:4;--x:718;--y:215;--w:168;--h:50">primary metabolic<br>process</div>
<div class="n" style="--k:4;--x:956;--y:215;--w:168;--h:50">organic substance<br>metabolic process</div>
<div class="n" style="--k:4;--x:1390;--y:215;--w:160;--h:50">catabolic process</div>
<div class="n" style="--k:4;--x:675;--y:320;--w:164;--h:52">organic substance<br>catabolic process</div>
<div class="n" style="--k:4;--x:872;--y:320;--w:190;--h:52">organic cyclic<br>compound metabolic<br>process</div>
<div class="n" style="--k:4;--x:1520;--y:320;--w:166;--h:52">regulation of<br>metabolic process</div>
<div class="n" style="--k:4;--x:177;--y:433;--w:157;--h:53">macromolecule<br>catabolic process</div>
<div class="n" style="--k:4;--x:368;--y:433;--w:172;--h:53">positive regulation<br>of metabolic<br>process</div>
<div class="n" style="--k:4;--x:573;--y:433;--w:167;--h:53">regulation of<br>primary metabolic<br>process</div>
<div class="n" style="--k:4;--x:844;--y:433;--w:164;--h:53">organic substance<br>biosynthetic<br>process</div>
<div class="n" style="--k:4;--x:1179;--y:433;--w:172;--h:53">receptor metabolic<br>process</div>
<div class="n" style="--k:4;--x:1453;--y:433;--w:155;--h:53">regulation of<br>catabolic process</div>
<div class="n" style="--k:4;--x:38;--y:553;--w:153;--h:53">protein catabolic<br>process</div>
<div class="n" style="--k:4;--x:359;--y:553;--w:171;--h:53">positive regulation<br>of biosynthetic<br>process</div>
<div class="n" style="--k:4;--x:631;--y:545;--w:166;--h:69">low-density<br>lipoprotein<br>receptor particle<br>metabolic process</div>
<div class="n" style="--k:4;--x:830;--y:553;--w:163;--h:53">receptor catabolic<br>process</div>
<div class="n" style="--k:4;--x:1026;--y:553;--w:171;--h:53">positive regulation<br>of catabolic<br>process</div>
<div class="n" style="--k:4;--x:1297;--y:553;--w:157;--h:53">regulation of<br>cellular catabolic<br>process</div>
<div class="n" style="--k:4;--x:1553;--y:553;--w:160;--h:53">steroid metabolic<br>process</div>
<div class="n" style="--k:4;--x:195;--y:675;--w:153;--h:52">regulation of<br>protein catabolic<br>process</div>
<div class="n" style="--k:4;--x:487;--y:667;--w:157;--h:69">low-density<br>lipoprotein<br>particle receptor<br>catabolic process</div>
<div class="n" style="--k:4;--x:814;--y:675;--w:163;--h:52">regulation of<br>receptor catabolic<br>process</div>
<div class="n" style="--k:4;--x:1290;--y:675;--w:171;--h:52">positive regulation<br>of cellular<br>catabolic process</div>
<div class="n" style="--k:4;--x:129;--y:805;--w:175;--h:52">positive regulation<br>of protein catabolic<br>process</div>
<div class="n" style="--k:4;--x:338;--y:805;--w:113;--h:52">sphingolipid<br>biosynthetic<br>process</div>
<div class="n" style="--k:4;--x:485;--y:789;--w:157;--h:84">regulation of<br>low-density<br>lipoprotein<br>particle receptor<br>catabolic process</div>
<div class="n" style="--k:4;--x:813;--y:805;--w:169;--h:52">positive regulation<br>of receptor<br>catabolic process</div>
<div class="b" style="--k:4;--x:543;--y:927;--w:171;--h:84">positive regulation<br>of low-density<br>lipoprotein<br>particle receptor<br>catabolic process</div>

<div class="n" style="--k:5;--x:78;--y:433;--w:156;--h:53">cellular catabolic<br>process</div>
<div class="n" style="--k:5;--x:522;--y:320;--w:171;--h:52">positive regulation<br>of biological<br>process</div>
<div class="n" style="--k:5;--x:728;--y:320;--w:134;--h:52">lipid metabolic<br>process</div>
<div class="n" style="--k:5;--x:897;--y:320;--w:115;--h:52">biosynthetic<br>process</div>
<div class="n" style="--k:5;--x:1563;--y:320;--w:163;--h:52">cellular metabolic<br>process</div>
<div class="n" style="--k:5;--x:371;--y:433;--w:118;--h:53">regulation of<br>biosynthetic<br>process</div>
<div class="n" style="--k:5;--x:523;--y:433;--w:170;--h:53">positive regulation<br>of cellular<br>process</div>
<div class="n" style="--k:5;--x:793;--y:433;--w:165;--h:53">regulation of<br>cellular metabolic<br>process</div>
<div class="n" style="--k:5;--x:1193;--y:433;--w:177;--h:53">negative regulation<br>of metabolic<br>process</div>
<div class="n" style="--k:5;--x:1470;--y:433;--w:168;--h:53">cellular lipid<br>metabolic process</div>
<div class="n" style="--k:5;--x:179;--y:553;--w:170;--h:53">positive regulation<br>of cellular<br>metabolic process</div>
<div class="n" style="--k:5;--x:381;--y:553;--w:168;--h:53">membrane lipid<br>metabolic process</div>
<div class="n" style="--k:5;--x:649;--y:553;--w:184;--h:53">regulation of<br>cellular biosynthetic<br>process</div>
<div class="n" style="--k:5;--x:1003;--y:553;--w:158;--h:53">lipid biosynthetic<br>process</div>
<div class="n" style="--k:5;--x:1264;--y:553;--w:135;--h:53">regulation of<br>lipid metabolic<br>process</div>
<div class="n" style="--k:5;--x:1566;--y:553;--w:180;--h:53">negative regulation<br>of biosynthetic<br>process</div>
<div class="n" style="--k:5;--x:187;--y:675;--w:150;--h:52">sterol metabolic<br>process</div>
<div class="n" style="--k:5;--x:369;--y:675;--w:146;--h:52">membrane lipid<br>biosynthetic<br>process</div>
<div class="b" style="--k:5;--x:548;--y:675;--w:159;--h:52">regulation of<br>steroid metabolic<br>process</div>
<div class="n" style="--k:5;--x:740;--y:675;--w:167;--h:52">regulation of<br>membrane lipid<br>metabolic process</div>
<div class="n" style="--k:5;--x:1134;--y:675;--w:156;--h:52">regulation of<br>lipid biosynthetic<br>process</div>
<div class="n" style="--k:5;--x:1326;--y:675;--w:177;--h:52">negative regulation<br>of lipid metabolic<br>process</div>
<div class="b" style="--k:5;--x:422;--y:805;--w:183;--h:52">negative regulation<br>of steroid metabolic<br>process</div>
<div class="b" style="--k:5;--x:638;--y:805;--w:167;--h:52">cholesterol<br>metabolic process</div>
<div class="n" style="--k:5;--x:1206;--y:805;--w:178;--h:52">negative regulation<br>of lipid biosynthetic<br>process</div>
<div class="n" style="--k:5;--x:797;--y:935;--w:118;--h:68">regulation of<br>sphingolipid<br>biosynthetic<br>process</div>
<div class="b" style="--k:5;--x:767;--y:1073;--w:177;--h:68">negative regulation<br>of sphingolipid<br>biosynthetic<br>process</div>

<div class="n" style="--k:6;--x:103;--y:433;--w:185;--h:53">cellular biosynthetic<br>process</div>
<div class="n" style="--k:6;--x:389;--y:433;--w:190;--h:53">organic hydroxy<br>compound metabolic<br>process</div>
<div class="n" style="--k:6;--x:546;--y:320;--w:168;--h:52">small molecule<br>metabolic process</div>
<div class="n" style="--k:6;--x:680;--y:433;--w:143;--h:53">small molecule<br>biosynthetic<br>process</div>
<div class="n" style="--k:6;--x:856;--y:433;--w:190;--h:53">cellular nitrogen<br>compound metabolic<br>process</div>
<div class="n" style="--k:6;--x:1310;--y:433;--w:174;--h:53">regulation of<br>cellular component<br>biogenesis</div>
<div class="n" style="--k:6;--x:1518;--y:433;--w:200;--h:53">phosphorus metabolic<br>process</div>
<div class="n" style="--k:6;--x:281;--y:553;--w:210;--h:53">organic hydroxy<br>compound biosynthetic<br>process</div>
<div class="n" style="--k:6;--x:526;--y:553;--w:176;--h:53">negative regulation<br>of cellular<br>metabolic process</div>
<div class="n" style="--k:6;--x:736;--y:553;--w:163;--h:53">alcohol metabolic<br>process</div>
<div class="n" style="--k:6;--x:1136;--y:553;--w:212;--h:53">cellular nitrogen<br>compound biosynthetic<br>process</div>
<div class="n" style="--k:6;--x:1450;--y:553;--w:166;--h:53">organophosphate<br>metabolic process</div>
<div class="n" style="--k:6;--x:35;--y:667;--w:177;--h:69">negative regulation<br>of cellular<br>biosynthetic<br>process</div>
<div class="n" style="--k:6;--x:246;--y:675;--w:167;--h:52">secondary alcohol<br>metabolic process</div>
<div class="n" style="--k:6;--x:512;--y:675;--w:155;--h:52">polyol metabolic<br>process</div>
<div class="n" style="--k:6;--x:836;--y:675;--w:182;--h:52">alcohol biosynthetic<br>process</div>
<div class="n" style="--k:6;--x:1120;--y:675;--w:158;--h:52">organophosphate<br>biosynthetic<br>process</div>
<div class="n" style="--k:6;--x:1312;--y:675;--w:167;--h:52">phospholipid<br>metabolic process</div>
<div class="n" style="--k:6;--x:1545;--y:675;--w:178;--h:52">negative regulation<br>of phosphorus<br>metabolic process</div>
<div class="n" style="--k:6;--x:322;--y:805;--w:185;--h:52">sphingoid metabolic<br>process</div>
<div class="n" style="--k:6;--x:539;--y:805;--w:133;--h:52">diol metabolic<br>process</div>
<div class="n" style="--k:6;--x:839;--y:805;--w:175;--h:52">polyol biosynthetic<br>process</div>
<div class="n" style="--k:6;--x:1131;--y:805;--w:119;--h:52">phospholipid<br>biosynthetic<br>process</div>
<div class="n" style="--k:6;--x:1283;--y:805;--w:168;--h:52">regulation of<br>phospholipid<br>metabolic process</div>
<div class="n" style="--k:6;--x:215;--y:943;--w:206;--h:52">sphingoid biosynthetic<br>process</div>
<div class="n" style="--k:6;--x:522;--y:943;--w:167;--h:52">sphingosine<br>metabolic process</div>
<div class="n" style="--k:6;--x:722;--y:943;--w:153;--h:52">diol biosynthetic<br>process</div>
<div class="n" style="--k:6;--x:1188;--y:935;--w:119;--h:68">regulation of<br>phospholipid<br>biosynthetic<br>process</div>
<div class="n" style="--k:6;--x:1340;--y:943;--w:178;--h:52">negative regulation<br>of phospholipid<br>metabolic process</div>
<div class="b" style="--k:6;--x:644;--y:1081;--w:115;--h:52">sphingosine<br>biosynthetic<br>process</div>
<div class="b" style="--k:6;--x:1102;--y:1073;--w:179;--h:68">negative regulation<br>of phospholipid<br>biosynthetic<br>process</div>

<div class="n" style="--k:7;--x:1462;--y:5;--w:168;--h:52">biological_process<br>Abca2</div>
<div class="n" style="--k:7;--x:687;--y:110;--w:138;--h:50">developmental<br>process</div>
<div class="n" style="--k:7;--x:993;--y:110;--w:143;--h:50">cellular process</div>
<div class="n" style="--k:7;--x:806;--y:212;--w:174;--h:54">cellular component<br>organization<br>or biogenesis</div>
<div class="n" style="--k:7;--x:1216;--y:215;--w:165;--h:50">regulation of<br>biological process</div>
<div class="n" style="--k:7;--x:1413;--y:215;--w:190;--h:50">anatomical structure<br>development</div>
<div class="n" style="--k:7;--x:303;--y:320;--w:175;--h:52">cellular component<br>biogenesis</div>
<div class="n" style="--k:7;--x:511;--y:320;--w:187;--h:52">anatomical structure<br>morphogenesis</div>
<div class="n" style="--k:7;--x:800;--y:320;--w:207;--h:52">cellular developmental<br>process</div>
<div class="n" style="--k:7;--x:1111;--y:320;--w:142;--h:52">regulation of<br>cellular process</div>
<div class="n" style="--k:7;--x:1356;--y:320;--w:171;--h:52">cellular component<br>organization</div>
<div class="n" style="--k:7;--x:1565;--y:320;--w:175;--h:52">negative regulation<br>of biological<br>process</div>
<div class="n" style="--k:7;--x:184;--y:433;--w:189;--h:53">anatomical structure<br>formation involved<br>in morphogenesis</div>
<div class="n" style="--k:7;--x:405;--y:433;--w:175;--h:53">cellular component<br>assembly</div>
<div class="n" style="--k:7;--x:611;--y:433;--w:176;--h:53">cellular component<br>morphogenesis</div>
<div class="n" style="--k:7;--x:1022;--y:433;--w:167;--h:53">cell differentiation</div>
<div class="n" style="--k:7;--x:1222;--y:433;--w:176;--h:53">negative regulation<br>of cellular<br>process</div>
<div class="n" style="--k:7;--x:1432;--y:433;--w:176;--h:53">regulation of<br>cellular component<br>organization</div>
<div class="n" style="--k:7;--x:150;--y:553;--w:200;--h:53">regulation of<br>phosphorus metabolic<br>process</div>
<div class="n" style="--k:7;--x:384;--y:553;--w:195;--h:53">phosphate-containing<br>compound metabolic<br>process</div>
<div class="n" style="--k:7;--x:612;--y:553;--w:175;--h:53">cellular component<br>assembly involved<br>in morphogenesis</div>
<div class="n" style="--k:7;--x:888;--y:553;--w:158;--h:53">cell development</div>
<div class="n" style="--k:7;--x:1215;--y:553;--w:220;--h:53">negative regulation<br>of cellular<br>component organization</div>
<div class="n" style="--k:7;--x:1537;--y:553;--w:146;--h:53">nervous system<br>development</div>
<div class="n" style="--k:7;--x:189;--y:675;--w:190;--h:52">regulation of<br>phosphate metabolic<br>process</div>
<div class="n" style="--k:7;--x:791;--y:675;--w:132;--h:52">ensheathment<br>of neurons</div>
<div class="n" style="--k:7;--x:1146;--y:675;--w:126;--h:52">neurogenesis</div>
<div class="n" style="--k:7;--x:86;--y:805;--w:179;--h:52">negative regulation<br>of phosphate<br>metabolic process</div>
<div class="n" style="--k:7;--x:1152;--y:805;--w:107;--h:52">gliogenesis</div>
<div class="n" style="--k:7;--x:1079;--y:943;--w:210;--h:52">glial cell differentiation</div>
<div class="n" style="--k:7;--x:767;--y:1081;--w:181;--h:52">axon ensheathment</div>
<div class="n" style="--k:7;--x:1023;--y:1081;--w:200;--h:52">glial cell development</div>
<div class="n" style="--k:7;--x:1257;--y:1081;--w:147;--h:52">oligodendrocyte<br>differentiation</div>
<div class="n" style="--k:7;--x:751;--y:1227;--w:111;--h:52">myelination</div>
<div class="n" style="--k:7;--x:895;--y:1227;--w:182;--h:52">axon ensheathment<br>in central nervous<br>system</div>
<div class="n" style="--k:7;--x:1111;--y:1227;--w:147;--h:52">oligodendrocyte<br>development</div>
<div class="n" style="--k:7;--x:704;--y:1379;--w:159;--h:52">myelin assembly</div>
<div class="n" style="--k:7;--x:895;--y:1379;--w:182;--h:52">central nervous<br>system myelination</div>
<div class="d" style="--k:7;--x:814;--y:1508;--w:142;--h:53">central nervous<br>system myelin<br>formation</div>

<div class="n" style="--k:8;--x:134;--y:110;--w:184;--h:50">biological regulation</div>
<div class="n" style="--k:8;--x:350;--y:110;--w:179;--h:50">multicellular<br>organismal process</div>
<div class="n" style="--k:8;--x:1301;--y:110;--w:109;--h:50">localization</div>
<div class="n" style="--k:8;--x:540;--y:215;--w:171;--h:50">regulation of<br>molecular function</div>
<div class="n" style="--k:8;--x:742;--y:215;--w:97;--h:50">behavior</div>
<div class="n" style="--k:8;--x:1073;--y:215;--w:178;--h:50">cellular localization</div>
<div class="n" style="--k:8;--x:1284;--y:215;--w:141;--h:50">macromolecule<br>localization</div>
<div class="n" style="--k:8;--x:1538;--y:215;--w:132;--h:50">establishment<br>of localization</div>
<div class="n" style="--k:8;--x:273;--y:320;--w:210;--h:52">multicellular<br>organism development</div>
<div class="d" style="--k:8;--x:697;--y:320;--w:188;--h:52">locomotory behavior</div>
<div class="n" style="--k:8;--x:1160;--y:320;--w:210;--h:52">cellular macromolecule<br>localization</div>
<div class="n" style="--k:8;--x:1404;--y:320;--w:118;--h:52">regulation of<br>localization</div>
<div class="n" style="--k:8;--x:1556;--y:320;--w:97;--h:52">transport</div>
<div class="n" style="--k:8;--x:206;--y:433;--w:193;--h:53">system development</div>
<div class="n" style="--k:8;--x:501;--y:433;--w:156;--h:53">vesicle-mediated<br>transport</div>
<div class="n" style="--k:8;--x:791;--y:433;--w:175;--h:53">protein localization</div>
<div class="n" style="--k:8;--x:1067;--y:433;--w:176;--h:53">regulation of<br>cellular localization</div>
<div class="b" style="--k:8;--x:1277;--y:433;--w:147;--h:53">transmembrane<br>transport</div>
<div class="n" style="--k:8;--x:1458;--y:433;--w:118;--h:53">regulation of<br>transport</div>
<div class="n" style="--k:8;--x:218;--y:553;--w:159;--h:53">regulation of<br>vesicle-mediated<br>transport</div>
<div class="n" style="--k:8;--x:409;--y:553;--w:112;--h:53">endocytosis</div>
<div class="n" style="--k:8;--x:689;--y:553;--w:175;--h:53">protein localization<br>to cell surface</div>
<div class="n" style="--k:8;--x:897;--y:553;--w:174;--h:53">protein localization<br>to cell periphery</div>
<div class="n" style="--k:8;--x:1103;--y:553;--w:175;--h:53">regulation of<br>protein localization</div>
<div class="n" style="--k:8;--x:1310;--y:553;--w:178;--h:53">negative regulation<br>of transport</div>
<div class="n" style="--k:8;--x:1522;--y:553;--w:118;--h:53">regulation of<br>intracellular<br>transport</div>
<div class="n" style="--k:8;--x:225;--y:675;--w:114;--h:52">regulation of<br>endocytosis</div>
<div class="n" style="--k:8;--x:513;--y:675;--w:168;--h:52">receptor-mediated<br>endocytosis</div>
<div class="n" style="--k:8;--x:715;--y:675;--w:192;--h:52">central nervous<br>system development</div>
<div class="d" style="--k:8;--x:939;--y:675;--w:175;--h:52">regulation of<br>protein localization<br>to cell surface</div>
<div class="d" style="--k:8;--x:1146;--y:675;--w:174;--h:52">regulation of<br>protein localization<br>to cell periphery</div>
<div class="n" style="--k:8;--x:1353;--y:675;--w:177;--h:52">negative regulation<br>of intracellular<br>transport</div>
<div class="n" style="--k:8;--x:270;--y:805;--w:178;--h:52">negative regulation<br>of endocytosis</div>
<div class="n" style="--k:8;--x:482;--y:805;--w:168;--h:52">regulation of<br>receptor-mediated<br>endocytosis</div>
<div class="n" style="--k:8;--x:138;--y:943;--w:178;--h:52">negative regulation<br>of molecular<br>function</div>
<div class="n" style="--k:8;--x:472;--y:943;--w:190;--h:52">negative regulation<br>of receptor-mediated<br>endocytosis</div>
<div class="d" style="--k:8;--x:240;--y:1073;--w:178;--h:68">negative regulation<br>of low-density<br>lipoprotein<br>receptor activity</div>
<div class="n" style="--k:8;--x:1565;--y:1065;--w:168;--h:84">receptor-mediated<br>endocytosis<br>involved in<br>cholesterol<br>transport</div>
<div class="n" style="--k:8;--x:1428;--y:1203;--w:170;--h:100">regulation of<br>receptor-mediated<br>endocytosis<br>involved in<br>cholesterol<br>transport</div>
<div class="b" style="--k:8;--x:1486;--y:1355;--w:190;--h:100">negative regulation<br>of receptor-mediated<br>endocytosis<br>involved in<br>cholesterol<br>transport</div>

<div class="n" style="--k:9;--x:1180;--y:110;--w:113;--h:50">homeostatic<br>process</div>
<div class="n" style="--k:9;--x:550;--y:215;--w:159;--h:50">regulation of<br>biological quality</div>
<div class="n" style="--k:9;--x:1134;--y:215;--w:204;--h:50">chemical homeostasis</div>
<div class="n" style="--k:9;--x:1370;--y:215;--w:188;--h:50">cellular homeostasis</div>
<div class="n" style="--k:9;--x:185;--y:320;--w:131;--h:52">establishment<br>of localization<br>in cell</div>
<div class="n" style="--k:9;--x:400;--y:320;--w:150;--h:52">lipid localization</div>
<div class="n" style="--k:9;--x:1163;--y:320;--w:161;--h:52">lipid homeostasis</div>
<div class="n" style="--k:9;--x:1357;--y:320;--w:203;--h:52">intracellular<br>chemical homeostasis</div>
<div class="n" style="--k:9;--x:111;--y:433;--w:111;--h:53">intracellular<br>transport</div>
<div class="n" style="--k:9;--x:325;--y:433;--w:150;--h:53">regulation of<br>lipid localization</div>
<div class="n" style="--k:9;--x:578;--y:433;--w:164;--h:53">organic substance<br>transport</div>
<div class="n" style="--k:9;--x:844;--y:433;--w:218;--h:53">membrane organization</div>
<div class="n" style="--k:9;--x:1168;--y:433;--w:175;--h:53">nitrogen compound<br>transport</div>
<div class="b" style="--k:9;--x:1389;--y:433;--w:117;--h:53">intracellular<br>sphingolipid<br>homeostasis</div>
<div class="n" style="--k:9;--x:377;--y:553;--w:178;--h:53">negative regulation<br>of lipid localization</div>
<div class="n" style="--k:9;--x:656;--y:553;--w:183;--h:53">organic hydroxy<br>compound transport</div>
<div class="b" style="--k:9;--x:873;--y:553;--w:128;--h:53">lipid transport</div>
<div class="n" style="--k:9;--x:1036;--y:553;--w:147;--h:53">regulation of<br>membrane lipid<br>distribution</div>
<div class="n" style="--k:9;--x:1315;--y:553;--w:146;--h:53">amide transport</div>
<div class="n" style="--k:9;--x:267;--y:675;--w:130;--h:52">intracellular<br>lipid transport</div>
<div class="n" style="--k:9;--x:536;--y:675;--w:128;--h:52">regulation of<br>lipid transport</div>
<div class="n" style="--k:9;--x:833;--y:675;--w:143;--h:52">sterol transport</div>
<div class="n" style="--k:9;--x:1028;--y:675;--w:163;--h:52">lipid translocation</div>
<div class="n" style="--k:9;--x:1306;--y:675;--w:174;--h:52">ceramide transport</div>
<div class="n" style="--k:9;--x:268;--y:805;--w:128;--h:52">regulation of<br>intracellular<br>lipid transport</div>
<div class="n" style="--k:9;--x:430;--y:805;--w:178;--h:52">negative regulation<br>of lipid transport</div>
<div class="n" style="--k:9;--x:641;--y:805;--w:141;--h:52">intracellular<br>sterol transport</div>
<div class="n" style="--k:9;--x:816;--y:805;--w:142;--h:52">regulation of<br>sterol transport</div>
<div class="n" style="--k:9;--x:1061;--y:805;--w:103;--h:52">cholesterol<br>transport</div>
<div class="n" style="--k:9;--x:1198;--y:805;--w:120;--h:52">sphingolipid<br>translocation</div>
<div class="n" style="--k:9;--x:131;--y:943;--w:178;--h:52">negative regulation<br>of intracellular<br>lipid transport</div>
<div class="n" style="--k:9;--x:409;--y:943;--w:142;--h:52">regulation of<br>intracellular<br>sterol transport</div>
<div class="n" style="--k:9;--x:586;--y:943;--w:111;--h:52">intracellular<br>cholesterol<br>transport</div>
<div class="n" style="--k:9;--x:730;--y:943;--w:178;--h:52">negative regulation<br>of sterol transport</div>
<div class="n" style="--k:9;--x:941;--y:943;--w:120;--h:52">regulation of<br>cholesterol<br>transport</div>
<div class="n" style="--k:9;--x:1163;--y:943;--w:103;--h:52">cholesterol<br>efflux</div>
<div class="b" style="--k:9;--x:1300;--y:943;--w:207;--h:52">ceramide translocation</div>
<div class="n" style="--k:9;--x:319;--y:1081;--w:180;--h:52">negative regulation<br>of intracellular<br>sterol transport</div>
<div class="d" style="--k:9;--x:532;--y:1073;--w:118;--h:68">regulation of<br>intracellular<br>cholesterol<br>transport</div>
<div class="n" style="--k:9;--x:833;--y:1081;--w:179;--h:52">negative regulation<br>of cholesterol<br>transport</div>
<div class="n" style="--k:9;--x:1044;--y:1081;--w:120;--h:52">regulation of<br>cholesterol<br>efflux</div>
<div class="b" style="--k:9;--x:501;--y:1219;--w:179;--h:68">negative regulation<br>of intracellular<br>cholesterol<br>transport</div>
<div class="b" style="--k:9;--x:1016;--y:1227;--w:177;--h:52">negative regulation<br>of cholesterol<br>efflux</div>
</div></body></html>
